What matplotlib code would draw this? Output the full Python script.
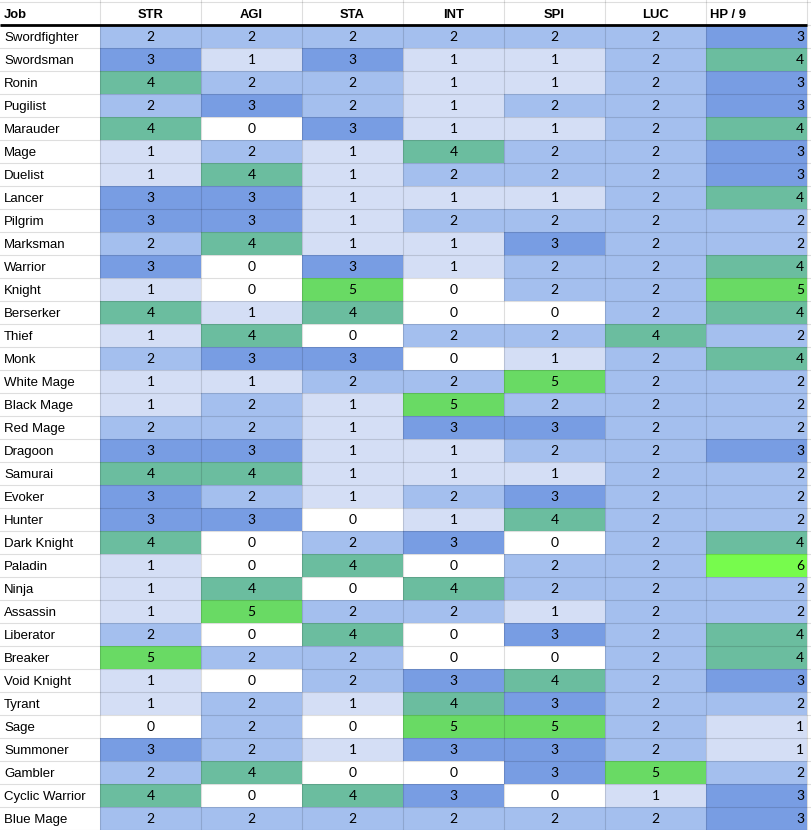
import numpy as np
import matplotlib
matplotlib.use("Agg")
import matplotlib.pyplot as plt
from matplotlib.colors import ListedColormap, BoundaryNorm

jobs = ["Swordfighter", "Swordsman", "Ronin", "Pugilist", "Marauder", "Mage", "Duelist",
        "Lancer", "Pilgrim", "Marksman", "Warrior", "Knight", "Berserker", "Thief", "Monk",
        "White Mage", "Black Mage", "Red Mage", "Dragoon", "Samurai", "Evoker", "Hunter",
        "Dark Knight", "Paladin", "Ninja", "Assassin", "Liberator", "Breaker", "Void Knight",
        "Tyrant", "Sage", "Summoner", "Gambler", "Cyclic Warrior", "Blue Mage"]
columns = ["STR", "AGI", "STA", "INT", "SPI", "LUC", "HP / 9"]
STR = [2, 3, 4, 2, 4, 1, 1, 3, 3, 2, 3, 1, 4, 1, 2, 1, 1, 2, 3, 4, 3, 3, 4, 1, 1, 1, 2, 5, 1, 1, 0, 3, 2, 4, 2]
AGI = [2, 1, 2, 3, 0, 2, 4, 3, 3, 4, 0, 0, 1, 4, 3, 1, 2, 2, 3, 4, 2, 3, 0, 0, 4, 5, 0, 2, 0, 2, 2, 2, 4, 0, 2]
STA = [2, 3, 2, 2, 3, 1, 1, 1, 1, 1, 3, 5, 4, 0, 3, 2, 1, 1, 1, 1, 1, 0, 2, 4, 0, 2, 4, 2, 2, 1, 0, 1, 0, 4, 2]
INT = [2, 1, 1, 1, 1, 4, 2, 1, 2, 1, 1, 0, 0, 2, 0, 2, 5, 3, 1, 1, 2, 1, 3, 0, 4, 2, 0, 0, 3, 4, 5, 3, 0, 3, 2]
SPI = [2, 1, 1, 2, 1, 2, 2, 1, 2, 3, 2, 2, 0, 2, 1, 5, 2, 3, 2, 1, 3, 4, 0, 2, 2, 1, 3, 0, 4, 3, 5, 3, 3, 0, 2]
LUC = [2, 2, 2, 2, 2, 2, 2, 2, 2, 2, 2, 2, 2, 4, 2, 2, 2, 2, 2, 2, 2, 2, 2, 2, 2, 2, 2, 2, 2, 2, 2, 2, 5, 1, 2]
HP9 = [3, 4, 3, 3, 4, 3, 3, 4, 2, 2, 4, 5, 4, 2, 4, 2, 2, 2, 3, 2, 2, 2, 4, 6, 2, 2, 4, 4, 3, 2, 1, 1, 2, 3, 3]

level_colors = ["#ffffff", "#d4def5", "#a4bfee", "#789de3", "#6bbd9f", "#69da64", "#77fb4d"]

data = np.array([STR, AGI, STA, INT, SPI, LUC, HP9]).T  # rows x cols
nrows, ncols = data.shape

W, H = 812, 830
fig = plt.figure(figsize=(W / 100, H / 100), dpi=100)
ax = fig.add_axes([0, 0, 1, 1])
ax.set_axis_off()

colw = 101.0   # px per column unit
rowh = 23.0    # px per row unit
x0 = -100.0 / colw
x1 = x0 + W / colw
ybot = 35.0
ytop = ybot - H / rowh
ax.set_xlim(x0, x1)
ax.set_ylim(ybot, ytop)

cmap = ListedColormap(level_colors)
norm = BoundaryNorm(np.arange(-0.5, 7.5, 1), cmap.N)
ax.pcolormesh(np.arange(ncols + 1), np.arange(nrows + 1), data, cmap=cmap, norm=norm,
              shading="flat", zorder=1)

# grid lines
gl = dict(color="black", alpha=0.13, lw=0.8, zorder=2)
for c in range(ncols + 1):
    ax.plot([c, c], [ytop, ybot], **gl)
for r in range(-1, nrows + 1):
    ax.plot([x0, x1], [r, r], **gl)
# header separator
ax.plot([x0, ncols], [0, 0], color="black", lw=2.0, zorder=4, solid_capstyle="butt")

font = "Liberation Sans"
px = 1.0 / colw
hfs = 9.4
base = 0.5 + 4.7 / rowh
# header
ax.text(x0 + 4 * px, -1 + 15.8 / rowh, "Job", ha="left", va="baseline", fontsize=hfs,
        fontweight="bold", family=font, zorder=5)
for j, name in enumerate(columns):
    if j == ncols - 1:
        ax.text(j + 4 * px, -1 + 15.8 / rowh, name, ha="left", va="baseline", fontsize=hfs,
                fontweight="bold", family=font, zorder=5)
    else:
        ax.text(j + 0.5, -1 + 15.8 / rowh, name, ha="center", va="baseline", fontsize=hfs,
                fontweight="bold", family=font, zorder=5)

for i, job in enumerate(jobs):
    ax.text(x0 + 4 * px, i + base, job, ha="left", va="baseline", fontsize=9.5, family=font,
            zorder=5)
    for j in range(ncols):
        v = data[i, j]
        if j == ncols - 1:
            ax.text(j + 1 - 3 * px, i + base, str(v), ha="right", va="baseline", fontsize=10,
                    family="Lato", zorder=5)
        else:
            ax.text(j + 0.5, i + base, str(v), ha="center", va="baseline", fontsize=10,
                    family="Lato", zorder=5)

fig.savefig("out.png", dpi=100)
